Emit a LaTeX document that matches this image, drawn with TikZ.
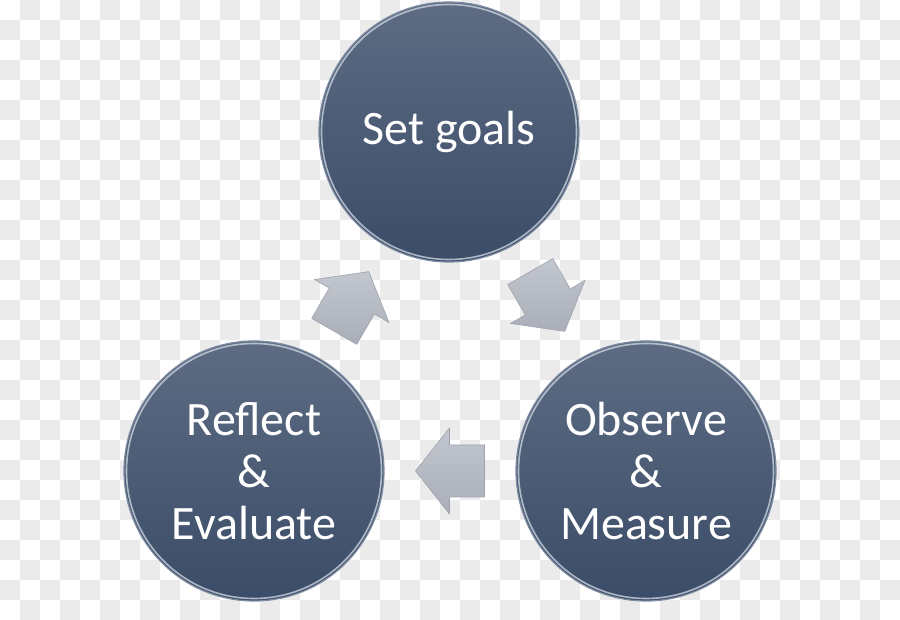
\documentclass[tikz,border=0pt]{standalone}
\usepackage{fontspec}
\setmainfont{Carlito}
\usetikzlibrary{calc}
\definecolor{chk}{HTML}{EBEBEB}
\definecolor{cirtop}{HTML}{5D6C83}
\definecolor{cirbot}{HTML}{3B4C68}
\definecolor{rimdark}{HTML}{7F8DA3}
\definecolor{rimlight}{HTML}{D3DAE4}
\definecolor{arrtop}{HTML}{C2C6CE}
\definecolor{arrbot}{HTML}{AAAEB8}
\definecolor{arredge}{HTML}{9EA2AC}
\tikzset{
  bubble/.style={circle, minimum size=260pt, inner sep=0pt,
    top color=cirtop, bottom color=cirbot, draw=rimdark, line width=1.2pt,
    text=white, font=\fontsize{48}{52}\selectfont, align=center},
  rimglow/.style={draw=rimlight, line width=1.6pt, opacity=0.75},
  arrowbody/.style={top color=arrtop, bottom color=arrbot, draw=arredge, line width=0.6pt, line join=round},
  blockarrow/.pic={\path[arrowbody] (-34.5,26) -- (0.5,26) -- (0.5,43) -- (34.5,0)
      -- (0.5,-43) -- (0.5,-26) -- (-34.5,-26) -- cycle;}
}
\begin{document}
\begin{tikzpicture}[x=1pt,y=1pt]
\useasboundingbox (0,0) rectangle (900,620);
\fill[white] (0,0) rectangle (900,620);
\foreach \i in {0,...,44}{\foreach \j in {0,...,30}{%
  \pgfmathtruncatemacro\p{mod(\i+\j,2)}%
  \ifnum\p=1 \fill[chk] (20*\i,600-20*\j) rectangle ++(20,20);\fi}}
\node[bubble] (sg) at (449,488) {Set goals};
\node[bubble] (om) at (646,149) {Observe\\\&\\Measure};
\node[bubble] (re) at (254,149) {Reflect\\\&\\Evaluate};
\foreach \n in {sg,om,re}{\draw[rimglow] (\n.center) circle[radius=127.5];}
\pic[rotate=-60] at ($(sg)!0.5!(om)$) {blockarrow};
\pic[rotate=180] at ($(om)!0.5!(re)$) {blockarrow};
\pic[rotate=60] at ($(re)!0.5!(sg)$) {blockarrow};
\end{tikzpicture}
\end{document}
